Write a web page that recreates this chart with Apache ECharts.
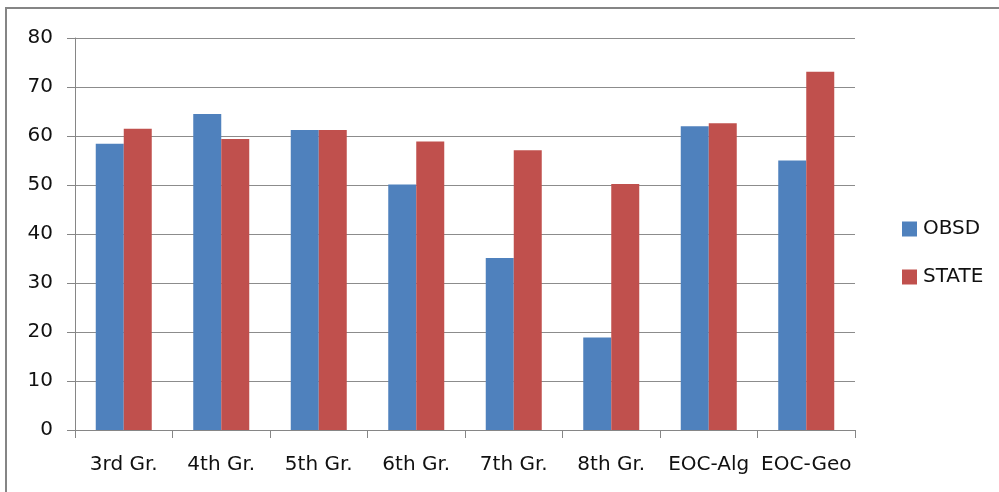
<!DOCTYPE html>
<html>
<head>
<meta charset="utf-8">
<style>
  html, body { margin: 0; padding: 0; background: #fff; }
  #chart { width: 999px; height: 492px; }
</style>
<script src="https://cdn.jsdelivr.net/npm/echarts@6/dist/echarts.min.js"></script>
</head>
<body>
<div id="chart"></div>
<script>
// Test score comparison by grade / course
const categories = ['3rd Gr.', '4th Gr.', '5th Gr.', '6th Gr.', '7th Gr.', '8th Gr.', 'EOC-Alg', 'EOC-Geo'];
const obsdValues = [58.4, 64.5, 61.2, 50.1, 35.1, 18.9, 62.0, 55.0];
const stateValues = [61.5, 59.4, 61.2, 58.9, 57.1, 50.2, 62.6, 73.1];
const yTicks = { min: 0, max: 80, interval: 10 };

const FONT = 'DejaVu Sans';
const chart = echarts.init(document.getElementById('chart'), null, { renderer: 'canvas' });

chart.setOption({
  backgroundColor: '#ffffff',
  animation: false,
  textStyle: { fontFamily: FONT },
  graphic: [{
    type: 'rect',
    shape: { x: 6, y: 8, width: 1200, height: 700 },
    style: { fill: 'none', stroke: '#858585', lineWidth: 2 },
    silent: true
  }],
  grid: { left: 75, right: 144, top: 38, bottom: 62, containLabel: false },
  legend: {
    orient: 'vertical',
    left: 897,
    top: 214,
    itemWidth: 15,
    itemHeight: 15,
    itemGap: 28,
    icon: 'rect',
    textStyle: { fontFamily: FONT, fontSize: 20, color: '#111', lineHeight: 15, padding: [0, 0, 0, 1] },
    data: ['OBSD', 'STATE']
  },
  xAxis: {
    type: 'category',
    data: categories,
    boundaryGap: true,
    axisLine: { lineStyle: { color: '#868686', width: 1 } },
    axisTick: { show: true, length: 8, lineStyle: { color: '#868686' } },
    axisLabel: { fontFamily: FONT, fontSize: 20, color: '#111', margin: 25, interval: 0 },
    splitLine: { show: false }
  },
  yAxis: {
    type: 'value',
    min: yTicks.min,
    max: yTicks.max,
    interval: yTicks.interval,
    axisLine: { show: true, lineStyle: { color: '#868686', width: 1 } },
    axisTick: { show: true, length: 8, lineStyle: { color: '#868686' } },
    axisLabel: { fontFamily: FONT, fontSize: 20, color: '#111', margin: 22 },
    splitLine: { show: true, lineStyle: { color: '#8c8c8c', width: 1 } }
  },
  series: [
    {
      name: 'OBSD',
      type: 'bar',
      data: obsdValues,
      barWidth: 28,
      barGap: '0%',
      itemStyle: { color: '#4F81BD' }
    },
    {
      name: 'STATE',
      type: 'bar',
      data: stateValues,
      barWidth: 28,
      barGap: '0%',
      itemStyle: { color: '#C0504D' }
    }
  ]
});
</script>
</body>
</html>
